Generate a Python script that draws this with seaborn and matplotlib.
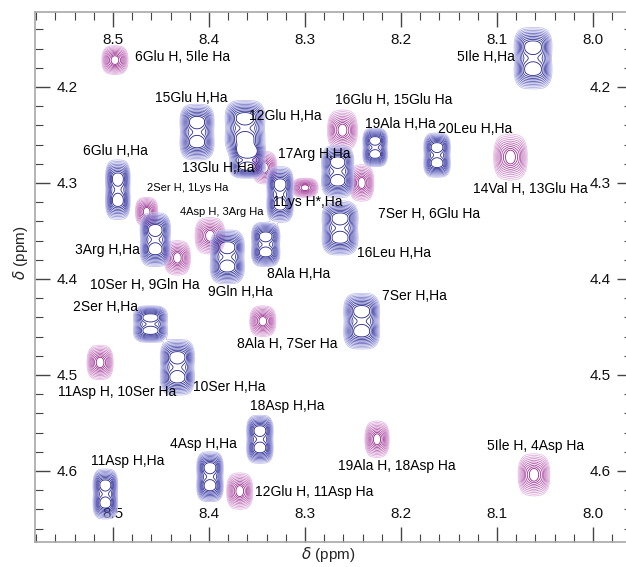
import numpy as np
import matplotlib
matplotlib.use("Agg")
import matplotlib.pyplot as plt
from matplotlib.ticker import MultipleLocator, FormatStrFormatter
import seaborn as sns

# intra-residue H,Ha cross peaks (blue): centre (ppm) and half extent (ppm)
blue_names = ["5Ile", "15Glu", "12Glu", "13Glu", "6Glu", "17Arg", "1Lys", "19Ala", "20Leu",
              "16Leu", "3Arg", "9Gln", "8Ala", "2Ser", "10Ser", "7Ser", "18Asp", "4Asp", "11Asp"]
blue_h = [8.0625, 8.4125, 8.3625, 8.360, 8.495, 8.266, 8.326, 8.227, 8.1625,
          8.2635, 8.456, 8.381, 8.341, 8.461, 8.433, 8.241, 8.347, 8.399, 8.508]
blue_ha = [4.170, 4.247, 4.243, 4.276, 4.307, 4.288, 4.312, 4.263, 4.271,
           4.347, 4.359, 4.377, 4.364, 4.447, 4.492, 4.444, 4.567, 4.606, 4.624]
blue_wh = [0.020, 0.018, 0.021, 0.019, 0.013, 0.017, 0.014, 0.013, 0.014,
           0.019, 0.016, 0.018, 0.015, 0.018, 0.018, 0.019, 0.014, 0.014, 0.013]
blue_wha = [0.032, 0.029, 0.029, 0.019, 0.031, 0.027, 0.029, 0.020, 0.023,
            0.028, 0.028, 0.028, 0.023, 0.019, 0.029, 0.029, 0.025, 0.026, 0.026]

# sequential H(i), Ha(i-1) cross peaks (magenta)
pink_names = ["6Glu/5Ile", "16Glu/15Glu", "14Val/13Glu", "13Glu/12Glu", "7Ser/6Glu", "17Arg/16Leu",
              "2Ser/1Lys", "4Asp/3Arg", "10Ser/9Gln", "8Ala/7Ser", "11Asp/10Ser", "12Glu/11Asp",
              "19Ala/18Asp", "5Ile/4Asp"]
pink_h = [8.498, 8.261, 8.086, 8.342, 8.241, 8.300,
          8.465, 8.399, 8.433, 8.344, 8.5135, 8.368, 8.225, 8.0615]
pink_ha = [4.172, 4.245, 4.273, 4.284, 4.300, 4.305,
           4.330, 4.355, 4.378, 4.444, 4.487, 4.621, 4.567, 4.604]
pink_wh = [0.014, 0.016, 0.018, 0.013, 0.013, 0.014,
           0.012, 0.016, 0.014, 0.014, 0.014, 0.014, 0.013, 0.017]
pink_wha = [0.015, 0.021, 0.024, 0.017, 0.019, 0.010,
            0.015, 0.019, 0.018, 0.016, 0.018, 0.019, 0.019, 0.022]

# peak assignments as printed on the spectrum
labels = ["6Glu H, 5Ile Ha", "5Ile H,Ha", "15Glu H,Ha", "12Glu H,Ha", "16Glu H, 15Glu Ha",
          "19Ala H,Ha", "20Leu H,Ha", "6Glu H,Ha", "17Arg H,Ha", "13Glu H,Ha",
          "14Val H, 13Glu Ha", "2Ser H, 1Lys Ha", "1Lys H*,Ha", "7Ser H, 6Glu Ha",
          "4Asp H, 3Arg Ha", "3Arg H,Ha", "16Leu H,Ha", "8Ala H,Ha", "10Ser H, 9Gln Ha",
          "9Gln H,Ha", "2Ser H,Ha", "7Ser H,Ha", "8Ala H, 7Ser Ha", "11Asp H, 10Ser Ha",
          "10Ser H,Ha", "18Asp H,Ha", "4Asp H,Ha", "5Ile H, 4Asp Ha", "11Asp H,Ha",
          "19Ala H, 18Asp Ha", "12Glu H, 11Asp Ha"]
label_x = [8.4771, 8.1417, 8.4563, 8.3583, 8.2688, 8.2375, 8.1615, 8.5313, 8.3281, 8.4281,
           8.1250, 8.4646, 8.3333, 8.2240, 8.4300, 8.5396, 8.2458, 8.3396, 8.5240, 8.4010,
           8.5417, 8.2198, 8.3708, 8.5573, 8.4167, 8.3573, 8.4406, 8.1104, 8.5229, 8.2656,
           8.3521]
label_y = [4.1688, 4.1688, 4.2114, 4.2301, 4.2135, 4.2385, 4.2437, 4.2665, 4.2696, 4.2842,
           4.3060, 4.3050, 4.3195, 4.3320, 4.3300, 4.3694, 4.3726, 4.3944, 4.4058, 4.4131,
           4.4297, 4.4173, 4.4682, 4.5181, 4.5129, 4.5326, 4.5721, 4.5742, 4.5898, 4.5950,
           4.6220]
small_labels = ["2Ser H, 1Lys Ha", "4Asp H, 3Arg Ha"]

P = 2.4          # lineshape exponent
L0 = 0.05        # lowest contour, relative to peak maximum
Q0 = np.log(1 / L0) ** (1 / P)


def lobe(X, Y, cx, cy, sx, sy):
    return np.exp(-np.abs((X - cx) / sx) ** P - np.abs((Y - cy) / sy) ** P)


def peak_field(X, Y, cx, cy, rx, ry, split_x, split_y):
    # multiplet of up to four lobes, scaled so the outer contour reaches rx, ry
    dx, dy = split_x * rx, split_y * ry
    sx, sy = rx * (1 - split_x) / Q0, ry * (1 - split_y) / Q0
    z = np.zeros_like(X)
    for ox in {-dx, dx}:
        for oy in {-dy, dy}:
            z += lobe(X, Y, cx + ox, cy + oy, sx, sy)
    return z / z.max()


xs = np.linspace(7.95, 8.60, 900)
ys = np.linspace(4.11, 4.69, 850)
X, Y = np.meshgrid(xs, ys)

Zb = np.zeros_like(X)
for cx, cy, rx, ry in zip(blue_h, blue_ha, blue_wh, blue_wha):
    Zb += peak_field(X, Y, cx, cy, rx, ry, 0.33, 0.38)
Zp = np.zeros_like(X)
for cx, cy, rx, ry in zip(pink_h, pink_ha, pink_wh, pink_wha):
    Zp += peak_field(X, Y, cx, cy, rx, ry, 0.3, 0.0)

sns.set_style("ticks")
plt.rcParams['font.family'] = ['Liberation Sans', 'DejaVu Sans']

fig = plt.figure(figsize=(6.26, 5.67), dpi=100)
ax = fig.add_axes([35 / 626, 25 / 567, 597 / 626, 530 / 567])

radii = np.linspace(1.0, 0.3, 10)
levels = np.exp(-(radii * Q0) ** P)
blue_pal = sns.blend_palette(["#c4c4ee", "#5c5cbc", "#22228a"], len(levels))
pink_pal = sns.blend_palette(["#e8c0e6", "#c070b8", "#94288a"], len(levels))
ax.contour(X, Y, Zp, levels=levels, colors=pink_pal, linewidths=0.6)
ax.contour(X, Y, Zb, levels=levels, colors=blue_pal, linewidths=0.6)

for txt, lx, ly in zip(labels, label_x, label_y):
    ax.text(lx, ly, txt, ha="left", va="center", color="black",
            fontsize=8 if txt in small_labels else 10)

ax.set_xlim(8.5813, 7.9594)
ax.set_ylim(4.674, 4.1219)
ax.xaxis.set_major_locator(MultipleLocator(0.1))
ax.xaxis.set_minor_locator(MultipleLocator(0.02))
ax.yaxis.set_major_locator(MultipleLocator(0.1))
ax.yaxis.set_minor_locator(MultipleLocator(0.02))
ax.xaxis.set_major_formatter(FormatStrFormatter("%.1f"))
ax.yaxis.set_major_formatter(FormatStrFormatter("%.1f"))
ax.tick_params(axis="both", which="both", direction="in", top=True, bottom=True,
               left=True, right=True, labeltop=True, labelbottom=True,
               labelleft=True, labelright=True, colors="#444444", labelcolor="#111111",
               labelsize=11)
ax.tick_params(axis="both", which="major", length=11, width=1.0)
ax.tick_params(axis="both", which="minor", length=5.5, width=0.8)
ax.tick_params(axis="x", which="major", pad=-25)
ax.tick_params(axis="y", which="major", pad=-30.5)
for sp in ax.spines.values():
    sp.set_visible(True)
    sp.set_color("#a8a8a8")
    sp.set_linewidth(1.2)

fig.text(328 / 626, 1 - 555 / 567, r"$\delta$ (ppm)", ha="center", va="center", fontsize=11)
fig.text(20 / 626, 1 - 253 / 567, r"$\delta$ (ppm)", ha="center", va="center",
         fontsize=11, rotation=90)

fig.savefig("out.png", dpi=100)
